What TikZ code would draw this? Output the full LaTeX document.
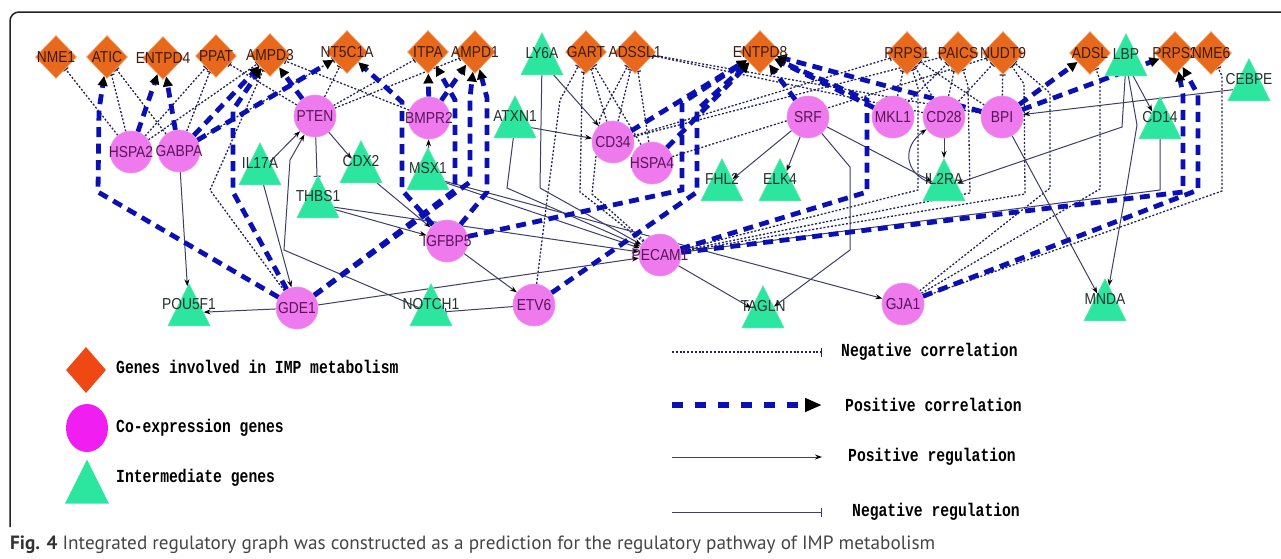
\documentclass[tikz,border=0pt]{standalone}
\usepackage{fontspec}
\setmainfont{Liberation Sans}
\newfontfamily\legfont{Liberation Mono}
\newfontfamily\capfont{PT Sans}
\usepackage{graphicx}
\usetikzlibrary{shapes.geometric,arrows.meta}
\definecolor{diac}{RGB}{232,104,28}
\definecolor{diaedge}{RGB}{246,160,95}
\definecolor{circ}{RGB}{238,122,238}
\definecolor{tric}{RGB}{44,230,160}
\definecolor{pblue}{RGB}{10,16,180}
\definecolor{ndot}{RGB}{35,35,85}
\definecolor{sreg}{RGB}{62,62,105}
\definecolor{ldia}{RGB}{240,72,18}
\definecolor{lcir}{RGB}{240,30,240}
\definecolor{framec}{RGB}{35,35,35}
\definecolor{dtext}{RGB}{60,28,18}
\definecolor{ctext}{RGB}{90,20,90}
\definecolor{ttext}{RGB}{35,50,45}
\definecolor{capc}{RGB}{70,70,70}
\pgfdeclarelayer{bg}
\pgfsetlayers{bg,main}
\tikzset{
  diashape/.style={diamond, fill=diac, draw=diaedge, line width=0.6pt, minimum width=41pt, minimum height=43pt, inner sep=0pt},
  cirshape/.style={circle, fill=circ, draw=circ!85!white, line width=0.6pt, minimum size=42pt, inner sep=0pt},
  trishape/.style={isosceles triangle, isosceles triangle stretches, shape border rotate=90, fill=tric, draw=tric!85!white, line width=0.6pt, minimum width=42pt, minimum height=42pt, inner sep=0pt, anchor=apex},
  lab/.style={inner sep=0pt, font=\fontsize{13.8}{14}\selectfont},
  dlab/.style={lab, text=dtext},
  clab/.style={lab, text=ctext},
  tlab/.style={lab, text=ttext},
  negc/.style={draw=ndot, line width=1.3pt, dash pattern=on 2pt off 1.8pt, -{Bar[width=6pt,line width=1.2pt]}},
  posc/.style={draw=pblue, line width=4.8pt, dash pattern=on 10pt off 6.5pt, -{Triangle[length=10pt,width=9.5pt,color=black,fill=black]}},
  posr/.style={draw=sreg, line width=1pt, -{Stealth[length=7pt,width=5pt,color=black]}},
  negr/.style={draw=sreg, line width=1pt, -{Bar[width=7pt,line width=1.1pt]}},
  legtext/.style={anchor=west, inner sep=0pt, font=\legfont\bfseries\fontsize{14.7}{15}\selectfont, text=black},
}
\newcommand\mkdia[4]{\node[diashape] (#1) at (#2,#3) {}; \node[dlab] (#1-t) at (#1) {\scalebox{1}[1.15]{#4}};}
\newcommand\mkcir[4]{\node[cirshape] (#1) at (#2,#3) {}; \node[clab] (#1-t) at (#1) {\scalebox{1}[1.15]{#4}};}
\newcommand\mktri[4]{\node[trishape] (#1) at (#2,#3) {}; \node[tlab] (#1-t) at ([yshift=-21pt]#1.apex) {\scalebox{1}[1.15]{#4}};}
\begin{document}
\begin{tikzpicture}[x=1pt,y=-1pt]
\path[use as bounding box] (0,0) rectangle (1281,558);
\draw[framec, line width=1.5pt, rounded corners=9pt] (10,527) -- (10,12) -- (1300,12);

% diamonds
\mkdia{nme1}{56}{57}{NME1}
\mkdia{atic}{107}{57}{ATIC}
\mkdia{entpd4}{163}{58}{ENTPD4}
\mkdia{ppat}{216}{56}{PPAT}
\mkdia{ampd3}{270}{55}{AMPD3}
\mkdia{nt5c1a}{347}{52}{NT5C1A}
\mkdia{itpa}{428}{52}{ITPA}
\mkdia{ampd1}{475}{52}{AMPD1}
\mkdia{gart}{586}{52}{GART}
\mkdia{adssl1}{635}{52}{ADSSL1}
\mkdia{entpd8}{760}{52}{ENTPD8}
\mkdia{prps1}{907}{53}{PRPS1}
\mkdia{paics}{958}{53}{PAICS}
\mkdia{nudt9}{1003}{53}{NUDT9}
\mkdia{adsl}{1090}{53}{ADSL}
\mkdia{prps2}{1175}{53}{PRPS2}
\mkdia{ime6}{1211}{53}{NME6}

% circles
\mkcir{hspa2}{131}{152}{HSPA2}
\mkcir{gabpa}{179}{151}{GABPA}
\mkcir{pten}{315}{116}{PTEN}
\mkcir{bmpr2}{429}{118}{BMPR2}
\mkcir{cd34}{613}{142}{CD34}
\mkcir{hspa4}{652}{163}{HSPA4}
\mkcir{srf}{808}{117}{SRF}
\mkcir{mkl1}{893}{117}{MKL1}
\mkcir{cd28}{944}{117}{CD28}
\mkcir{bpi}{1002}{117}{BPI}
\mkcir{igfbp5}{447}{241}{IGFBP5}
\mkcir{pecam1}{660}{255}{PECAM1}
\mkcir{etv6}{534}{305}{ETV6}
\mkcir{gde1}{297}{308}{GDE1}
\mkcir{gja1}{903}{304}{GJA1}

% triangles (apex positions)
\mktri{ly6a}{542}{32}{LY6A}
\mktri{lbp}{1126}{33}{LBP}
\mktri{cebpe}{1249}{58}{CEBPE}
\mktri{cd14}{1160}{96}{CD14}
\mktri{il2ra}{944}{158}{IL2RA}
\mktri{atxn1}{515}{95}{ATXN1}
\mktri{msx1}{428}{147}{MSX1}
\mktri{il17a}{260}{142}{IL17A}
\mktri{cdx2}{361}{140}{CDX2}
\mktri{thbs1}{318}{175}{THBS1}
\mktri{fhl2}{722}{158}{FHL2}
\mktri{elk4}{780}{158}{ELK4}
\mktri{pou5f1}{189}{283}{POU5F1}
\mktri{notch1}{431}{283}{NOTCH1}
\mktri{tagln}{763}{285}{TAGLN}
\mktri{mnda}{1105}{278}{MNDA}

\begin{pgfonlayer}{bg}
\fill[white] (0,0) rectangle (1281,558);
% negative correlation
\draw[negc] (hspa2) -- (nme1);
\draw[negc] (hspa2) -- (atic);
\draw[negc] (gabpa) -- (atic);
\draw[negc] (hspa2) -- (ppat);
\draw[negc] (gabpa) -- (ppat);
\draw[negc] (hspa2) -- (ampd3);
\draw[negc] (gabpa) -- (nt5c1a);
\draw[negc] (pten) -- (ppat);
\draw[negc] (pten) -- (nt5c1a);
\draw[negc] (pten) -- (itpa);
\draw[negc] (pten) -- (ampd1);
\draw[negc] (bmpr2) -- (ampd3);
\draw[negc] (gde1) -- (210,190) -- (ampd3);
\draw[negc] (cd34) -- (gart);
\draw[negc] (hspa4) -- (gart);
\draw[negc] (cd34) -- (adssl1);
\draw[negc] (hspa4) -- (adssl1);
\draw[negc] (etv6) -- (547,200) -- (560,100) -- (gart);
\draw[negc] (pecam1) -- (580,192) -- (582,92) -- (gart);
\draw[negc] (pecam1) -- (592,194) -- (600,118) -- (adssl1);
\draw[negc] (cd28) -- (adssl1);
\draw[negc] (bpi) -- (adssl1);
\draw[negc] (cd34) -- (prps1);
\draw[negc] (cd34) -- (paics);
\draw[negc] (hspa4) -- (nudt9);
\draw[negc] (mkl1) -- (prps1);
\draw[negc] (cd28) -- (prps1);
\draw[negc] (bpi) -- (prps1);
\draw[negc] (mkl1) -- (paics);
\draw[negc] (cd28) -- (paics);
\draw[negc] (cd28) -- (nudt9);
\draw[negc] (bpi) -- (nudt9);
\draw[negc] (pecam1) -- (918,190) -- (918,88) -- (prps1);
\draw[negc] (pecam1) -- (970,193) -- (968,86) -- (paics);
\draw[negc] (pecam1) -- (1025,194) -- (1024,84) -- (nudt9);
\draw[negc] (gja1) -- (1050,188) -- (1050,93) -- (nudt9);
\draw[negc] (gja1) -- (1100,189) -- (1100,80) -- (adsl);
\draw[negc] (gja1) -- (1222,191) -- (1222,76) -- (ime6);

% positive / negative regulation
\draw[posr] (gabpa) -- (pou5f1);
\draw[posr] (il17a) -- (pten);
\draw[posr] (notch1) -- (284,250) -- (290,160) -- (pten);
\draw[posr] (il17a) -- (gde1);
\draw[posr] (pten) -- (cdx2);
\draw[posr] (msx1) -- (bmpr2);
\draw[posr] (thbs1) -- (igfbp5);
\draw[posr] (cdx2) -- (igfbp5);
\draw[posr] (igfbp5) -- (etv6);
\draw[posr] (thbs1) -- (pecam1);
\draw[posr] (msx1) -- (pecam1);
\draw[posr] (msx1) -- (gja1);
\draw[posr] (atxn1) -- (cd34);
\draw[posr] (ly6a) -- (cd34);
\draw[posr] (ly6a) -- (540,188) -- (pecam1);
\draw[posr] (atxn1) -- (507,188) -- (pecam1);
\draw[posr] (gde1) -- (pecam1);
\draw[posr] (gde1) -- (pou5f1);
\draw[posr] (pecam1) -- (tagln);
\draw[posr] (srf) -- (850,167) -- (850,250) -- (tagln);
\draw[posr] (srf) -- (fhl2);
\draw[posr] (srf) -- (elk4);
\draw[posr] (srf) -- (il2ra);
\draw[posr] (cd28) -- (il2ra);
\draw[posr] (il2ra) to[out=160, in=215, looseness=1.4] (cd28);
\draw[posr] (lbp) -- (1122,127) -- (il2ra);
\draw[posr] (lbp) -- (cd14);
\draw[posr] (lbp) -- (1137,125) -- (1127,185) -- (mnda);
\draw[posr] (bpi) -- (mnda);
\draw[posr] (cebpe) -- (bpi);
\draw[posr] (cd14) -- (1160,190) -- (pecam1);
\draw[negr] (pten) -- (thbs1);
\draw[negr] (etv6) -- (notch1);

% positive correlation
\draw[posc] (gde1) -- (98,192) -- (99,110) -- (atic);
\draw[posc] (hspa2) -- (entpd4);
\draw[posc] (gabpa) -- (entpd4);
\draw[posc] (gabpa) -- (ampd3);
\draw[posc] (gabpa) -- (nt5c1a);
\draw[posc] (gde1) -- (233,192) -- (233,110) -- (ampd3);
\draw[posc] (pten) -- (ampd3);
\draw[posc] (igfbp5) -- (402,190) -- (402,102) -- (nt5c1a);
\draw[posc] (bmpr2) -- (itpa);
\draw[posc] (bmpr2) -- (ampd1);
\draw[posc] (gde1) -- (455,190) -- (455,100) -- (itpa);
\draw[posc] (gde1) -- (470,182) -- (470,98) -- (ampd1);
\draw[posc] (igfbp5) -- (487,192) -- (487,98) -- (ampd1);
\draw[posc] (igfbp5) -- (682,190) -- (682,103) -- (entpd8);
\draw[posc] (etv6) -- (697,192) -- (697,110) -- (entpd8);
\draw[posc] (cd34) -- (entpd8);
\draw[posc] (hspa4) -- (entpd8);
\draw[posc] (pecam1) -- (867,192) -- (867,100) -- (entpd8);
\draw[posc] (srf) -- (entpd8);
\draw[posc] (mkl1) -- (entpd8);
\draw[posc] (bpi) -- (entpd8);
\draw[posc] (bpi) -- (adsl);
\draw[posc] (bpi) -- (prps2);
\draw[posc] (pecam1) -- (1183,192) -- (1183,95) -- (prps2);
\draw[posc] (gja1) -- (1198,190) -- (1198,95) -- (prps2);
\end{pgfonlayer}

% legend shapes
\node[diamond, fill=ldia, minimum width=40pt, minimum height=46pt, inner sep=0pt] (legdia) at (86,370) {};
\node[ellipse, fill=lcir, minimum width=42pt, minimum height=48pt, inner sep=0pt] (legcir) at (87,428) {};
\node[isosceles triangle, isosceles triangle stretches, shape border rotate=90, fill=tric, minimum width=44pt, minimum height=44pt, inner sep=0pt, anchor=apex] (legtri) at (87,459) {};
\node[legtext] (lt1) at (116,367) {\scalebox{1}[1.25]{Genes involved in IMP metabolism}};
\node[legtext] (lt2) at (116,428) {\scalebox{1}[1.25]{Co-expression genes}};
\node[legtext] (lt3) at (116,478) {\scalebox{1}[1.25]{Intermediate genes}};

% legend lines
\coordinate (l1a) at (672,352); \coordinate (l1b) at (822,352);
\coordinate (l2a) at (672,405); \coordinate (l2b) at (822,405);
\coordinate (l3a) at (672,457); \coordinate (l3b) at (822,457);
\coordinate (l4a) at (672,512); \coordinate (l4b) at (822,512);
\draw[negc, -{Bar[width=9pt,line width=1.4pt]}] (l1a) -- (l1b);
\draw[draw=pblue, line width=6.5pt, dash pattern=on 11pt off 12pt, -{Triangle[length=17pt,width=13pt,color=black,fill=black]}] (l2a) -- (l2b);
\draw[posr] (l3a) -- (l3b);
\draw[negr, -{Bar[width=9pt,line width=1.3pt]}] (l4a) -- (l4b);
\node[legtext] (lt4) at (841,352) {\scalebox{1}[1.25]{Negative correlation}};
\node[legtext] (lt5) at (845,405) {\scalebox{1}[1.25]{Positive correlation}};
\node[legtext] (lt6) at (848,457) {\scalebox{1}[1.25]{Positive regulation}};
\node[legtext] (lt7) at (852,512) {\scalebox{1}[1.25]{Negative regulation}};

% caption
\node[anchor=west, inner sep=0pt] (cap) at (10,545) {\resizebox{925pt}{!}{\capfont\fontsize{19}{22}\selectfont\color{capc}\textbf{\color{black!80}Fig. 4} Integrated regulatory graph was constructed as a prediction for the regulatory pathway of IMP metabolism}};
\end{tikzpicture}
\end{document}
